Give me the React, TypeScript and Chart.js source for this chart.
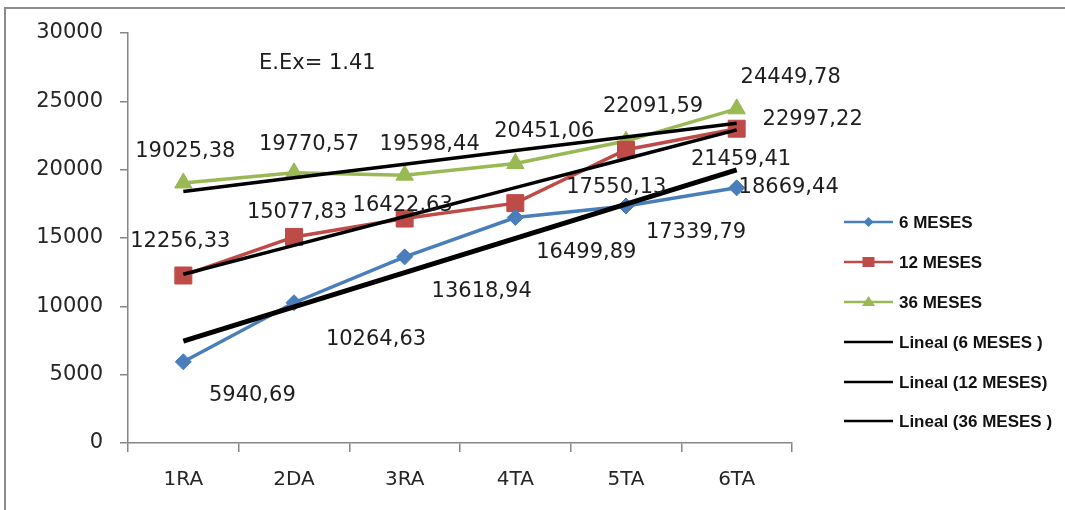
import React, { useEffect, useRef } from 'react';
import { Chart, registerables } from 'chart.js';

Chart.register(...registerables);

// ---- data ----
const categories = ['1RA', '2DA', '3RA', '4TA', '5TA', '6TA'];
const meses6 = [5940.69, 10264.63, 13618.94, 16499.89, 17339.79, 18669.44];
const meses12 = [12256.33, 15077.83, 16422.63, 17550.13, 21459.41, 22997.22];
const meses36 = [19025.38, 19770.57, 19598.44, 20451.06, 22091.59, 24449.78];
const seriesNames = ['6 MESES', '12 MESES', '36 MESES'];
const trendNames = ['Lineal (6 MESES )', 'Lineal (12 MESES)', 'Lineal (36 MESES )'];
const annotationText = 'E.Ex= 1.41';
const yMin = 0;
const yMax = 30000;
const yStep = 5000;

// ---- label placement (pixel offsets from each point) ----
const labelOffsets6 = [[69, 32], [82, 35], [77, 33], [71, 33], [70, 24], [52, -2]];
const labelOffsets12 = [[-3, -36], [3, -27], [-2, -15], [101, -18], [115, 8], [76, -11]];
const labelOffsets36 = [[2, -34], [15, -30], [25, -33], [29, -34], [27, -37], [54, -33]];

const COLORS = ['#4A7EBB', '#BE4B48', '#98B954'];
const STYLES = ['rectRot', 'rect', 'triangle'];
const RADII = [8, 12, 10];

function linearFit(values: number[]): number[] {
  const n = values.length;
  const xs = values.map((_, i) => i + 1);
  const mx = xs.reduce((a, b) => a + b, 0) / n;
  const my = values.reduce((a, b) => a + b, 0) / n;
  let sxy = 0;
  let sxx = 0;
  for (let i = 0; i < n; i++) {
    sxy += (xs[i] - mx) * (values[i] - my);
    sxx += (xs[i] - mx) * (xs[i] - mx);
  }
  const slope = sxy / sxx;
  return xs.map((x) => my + slope * (x - mx));
}

const fmt = (v: number) => v.toFixed(2).replace('.', ',');

const FONT = '"DejaVu Sans", Verdana, sans-serif';

const framePlugin = {
  id: 'frame',
  beforeDraw(chart: any) {
    const ctx = chart.ctx;
    ctx.save();
    ctx.fillStyle = '#ffffff';
    ctx.fillRect(0, 0, chart.width, chart.height);
    ctx.strokeStyle = '#8c8c8c';
    ctx.lineWidth = 2;
    ctx.beginPath();
    ctx.moveTo(5, chart.height);
    ctx.lineTo(5, 8);
    ctx.lineTo(chart.width, 8);
    ctx.stroke();
    ctx.restore();
  },
};

const labelsPlugin = {
  id: 'valueLabels',
  afterDatasetsDraw(chart: any) {
    const ctx = chart.ctx;
    const offsets = [labelOffsets6, labelOffsets12, labelOffsets36];
    ctx.save();
    ctx.font = `21px ${FONT}`;
    ctx.fillStyle = '#1e1e1e';
    ctx.textAlign = 'center';
    ctx.textBaseline = 'alphabetic';
    chart.data.datasets.forEach((ds: any, di: number) => {
      if (ds.seriesIndex === undefined) return;
      const meta = chart.getDatasetMeta(di);
      const offs = offsets[ds.seriesIndex];
      meta.data.forEach((pt: any, i: number) => {
        const [dx, dy] = offs[i];
        ctx.fillText(fmt(ds.data[i]), pt.x + dx, pt.y + dy + 7.6);
      });
    });
    // annotation
    ctx.textAlign = 'left';
    ctx.font = `21px ${FONT}`;
    ctx.fillText(annotationText, 259, 61 + 7.7);
    ctx.restore();
  },
};

const legendPlugin = {
  id: 'customLegend',
  afterDraw(chart: any) {
    const ctx = chart.ctx;
    const rows = [222, 262, 302, 342, 382, 421];
    const x0 = 844;
    const x1 = 893;
    const labels = [...seriesNames, ...trendNames];
    ctx.save();
    ctx.font = `bold 17px "Liberation Sans", Arial, sans-serif`;
    ctx.textBaseline = 'middle';
    ctx.textAlign = 'left';
    labels.forEach((lab, i) => {
      const y = rows[i];
      const color = i < 3 ? COLORS[i] : '#000000';
      ctx.strokeStyle = color;
      ctx.lineWidth = 2.5;
      ctx.beginPath();
      ctx.moveTo(x0, y);
      ctx.lineTo(x1, y);
      ctx.stroke();
      if (i < 3) {
        const cx = (x0 + x1) / 2;
        ctx.fillStyle = color;
        ctx.beginPath();
        if (i === 0) {
          ctx.moveTo(cx, y - 5);
          ctx.lineTo(cx + 5, y);
          ctx.lineTo(cx, y + 5);
          ctx.lineTo(cx - 5, y);
        } else if (i === 1) {
          ctx.rect(cx - 6, y - 5, 12, 10);
        } else {
          ctx.moveTo(cx, y - 6);
          ctx.lineTo(cx + 6.5, y + 4);
          ctx.lineTo(cx - 6.5, y + 4);
        }
        ctx.closePath();
        ctx.fill();
      }
      ctx.fillStyle = '#111111';
      ctx.fillText(lab, 899, y + 1);
    });
    ctx.restore();
  },
};

export default function App() {
  const ref = useRef<HTMLCanvasElement | null>(null);

  useEffect(() => {
    if (!ref.current) return;
    const seriesData = [meses6, meses12, meses36];
    const trendWidths = [5, 3.5, 3.5];
    const datasets: any[] = [];
    seriesData.forEach((vals, i) => {
      datasets.push({
        label: trendNames[i],
        data: linearFit(vals),
        borderColor: '#000000',
        backgroundColor: '#000000',
        borderWidth: trendWidths[i],
        pointRadius: 0,
        tension: 0,
        order: 0,
      });
    });
    seriesData.forEach((vals, i) => {
      datasets.push({
        label: seriesNames[i],
        seriesIndex: i,
        data: vals,
        borderColor: COLORS[i],
        backgroundColor: COLORS[i],
        pointBackgroundColor: COLORS[i],
        pointBorderColor: COLORS[i],
        pointBorderWidth: 1,
        borderWidth: 3.5,
        pointStyle: STYLES[i],
        pointRadius: RADII[i],
        tension: 0,
        order: 1 + i,
      });
    });

    const chart = new Chart(ref.current, {
      type: 'line',
      data: { labels: categories, datasets },
      plugins: [framePlugin, labelsPlugin, legendPlugin],
      options: {
        responsive: false,
        animation: false,
        layout: { padding: { left: 0, right: 273, top: 33, bottom: 0 } },
        plugins: {
          legend: { display: false },
          tooltip: { enabled: false },
        },
        scales: {
          x: {
            type: 'category',
            offset: true,
            grid: { drawOnChartArea: false, tickLength: 9, color: '#868686', offset: true, lineWidth: 1.5 },
            border: { color: '#868686', width: 1.5 },
            ticks: { font: { family: FONT, size: 20 }, color: '#262626', padding: 16 },
            afterFit: (s: any) => { s.height = 67; },
          },
          y: {
            min: yMin,
            max: yMax,
            grid: { drawOnChartArea: false, tickLength: 8, color: '#868686', lineWidth: 1.5 },
            border: { color: '#868686', width: 1.5 },
            ticks: {
              stepSize: yStep,
              font: { family: FONT, size: 21 },
              color: '#262626',
              padding: 17,
              callback: (v: any) => String(v),
            },
            afterFit: (s: any) => { s.width = 128; },
          },
        },
      } as any,
    });
    return () => chart.destroy();
  }, []);

  return (
    <div style={{ position: 'fixed', left: 0, top: 0, width: 1065, height: 510, background: '#fff' }}>
      <canvas ref={ref} width={1065} height={510} style={{ width: 1065, height: 510 }} />
    </div>
  );
}
